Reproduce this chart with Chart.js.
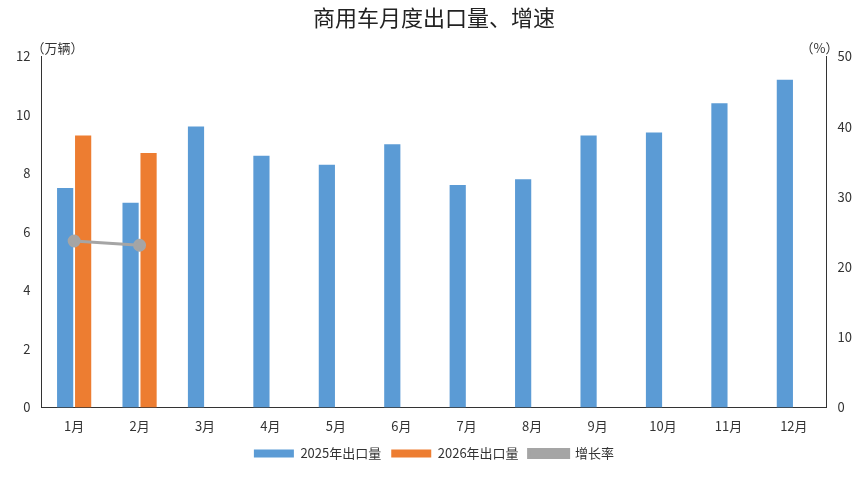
<!DOCTYPE html>
<html><head><meta charset="utf-8">
<script src="https://cdn.jsdelivr.net/npm/chart.js@4/dist/chart.umd.min.js"></script>
<style>body{margin:0;background:#fff}#w{width:865px;height:478px}</style>
</head><body><div id="w"><canvas id="c"></canvas></div>
<script>
const categories=["1月","2月","3月","4月","5月","6月","7月","8月","9月","10月","11月","12月"];
const exports2025=[7.5,7.0,9.6,8.6,8.3,9.0,7.6,7.8,9.3,9.4,10.4,11.2];
const exports2026=[9.3,8.7,null,null,null,null,null,null,null,null,null,null];
const growth=[23.7,23.1,null,null,null,null,null,null,null,null,null,null];
const leftTicks=[0,2,4,6,8,10,12];
const rightTicks=[0,10,20,30,40,50];
const F="'Noto Sans CJK SC','Noto Sans',sans-serif";
Chart.defaults.font.family=F;Chart.defaults.color="#333";
const unitPlugin={id:'u',afterDraw(c){const x=c.ctx,a=c.chartArea;x.save();x.font="13px "+F;x.fillStyle="#333";
x.textAlign="left";x.fillText("（万辆）",a.left-10,a.top-8);x.textAlign="right";x.fillText("（%）",a.right+12,a.top-8);x.restore();}};
new Chart(document.getElementById('c'),{type:'bar',data:{labels:categories,datasets:[
{label:'2025年出口量',data:exports2025,backgroundColor:'#5b9bd5',yAxisID:'y',order:2},
{label:'2026年出口量',data:exports2026,backgroundColor:'#ed7d31',yAxisID:'y',order:2},
{label:'增长率',type:'line',data:growth,borderColor:'#a5a5a5',backgroundColor:'#a5a5a5',borderWidth:3,pointRadius:5,yAxisID:'y1',order:1}
]},options:{responsive:true,maintainAspectRatio:false,animation:false,
datasets:{bar:{categoryPercentage:0.55,barPercentage:0.9}},
layout:{padding:{left:13,right:10,top:0,bottom:8}},
plugins:{title:{display:true,text:'商用车月度出口量、增速',font:{size:22,weight:'normal'},color:'#222',padding:{top:4,bottom:26}},
legend:{position:'bottom',labels:{font:{size:13},boxWidth:40,boxHeight:8,sort:(a,b)=>a.datasetIndex-b.datasetIndex}},tooltip:{enabled:false}},
scales:{x:{grid:{display:false,drawTicks:true},border:{color:'#333'},ticks:{font:{size:13}}},
y:{min:0,max:12,afterBuildTicks(s){s.ticks=leftTicks.map(v=>({value:v}));},grid:{display:false},border:{color:'#333'},ticks:{font:{size:13}}},
y1:{position:'right',min:0,max:50,afterBuildTicks(s){s.ticks=rightTicks.map(v=>({value:v}));},grid:{display:false},border:{color:'#333'},ticks:{font:{size:13}}}}},
plugins:[unitPlugin]});
</script></body></html>
